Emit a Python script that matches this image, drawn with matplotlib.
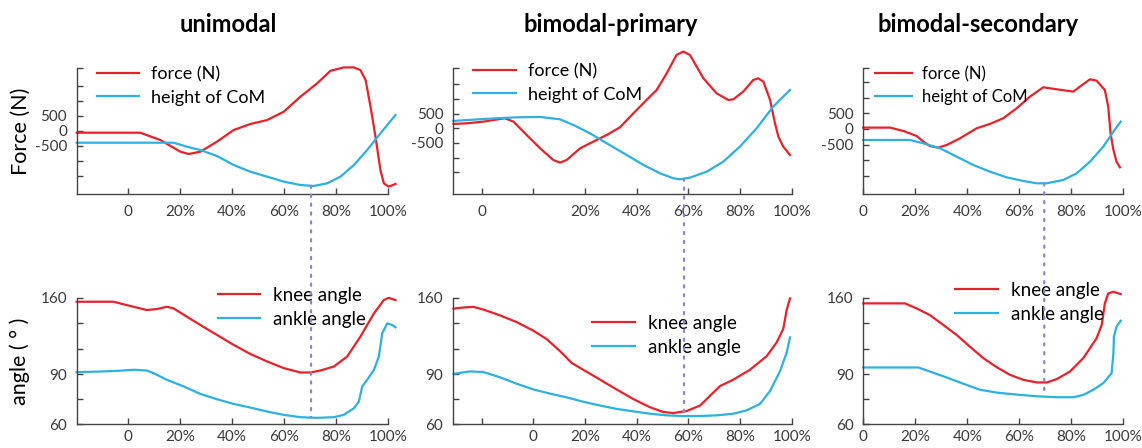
import numpy as np
import matplotlib
matplotlib.use('Agg')
import matplotlib.pyplot as plt
from matplotlib.patches import ConnectionPatch

plt.rcParams['font.family'] = ['Lato', 'DejaVu Sans']

# gait cycle in percent, one block per jump type
titles = ['unimodal', 'bimodal-primary', 'bimodal-secondary']

uni_force_x = [-19.7, 4.75, 12.5, 20.2, 23.4, 27.9, 34.3, 40.7, 47.1, 53.6, 60.0, 66.4, 72.8, 78.0,
               83.1, 87.0, 89.5, 91.5, 93.4, 95.3, 97.2, 98.5, 100.4, 103.0]
uni_force = [-67, -67, -311, -700, -777, -700, -366, 22, 222, 355, 633, 1132, 1576, 1998,
             2109, 2109, 2020, 1687, 799, -200, -1310, -1754, -1865, -1776]
uni_com_x = [-19.7, 17.6, 22.7, 27.9, 34.3, 40.7, 47.1, 53.6, 60.0, 66.4, 71.5, 76.7, 81.8,
             87.0, 92.1, 97.2, 103.0]
uni_com = [-400, -400, -533, -644, -844, -1143, -1365, -1532, -1698, -1809, -1843, -1754, -1532,
           -1143, -644, -89, 522]
uni_knee_x = [-19.7, -5.5, -0.4, 7.3, 11.2, 15.0, 17.6, 22.7, 27.9, 34.3, 40.7, 47.1, 53.6, 60.0,
              66.4, 70.3, 74.1, 79.3, 84.4, 89.5, 94.7, 98.5, 100.4, 103.0]
uni_knee = [156.3, 156.3, 153.2, 148.7, 149.6, 151.7, 150.2, 142.6, 135.0, 125.9, 116.8, 108.5,
            101.6, 95.5, 91.5, 91.5, 93.3, 97.0, 106.1, 124.4, 145.6, 157.8, 159.9, 157.8]
uni_ankle_x = [-19.7, -10.7, -4.2, 2.2, 7.3, 9.9, 15.0, 21.5, 27.9, 34.3, 40.7, 47.1, 53.6, 60.0,
               66.4, 72.8, 79.3, 83.1, 87.0, 88.9, 90.2, 92.1, 94.7, 96.6, 97.9, 99.8, 101.7, 103.0]
uni_ankle = [91.8, 92.4, 93.0, 94.0, 93.3, 90.9, 86.6, 82.6, 78.1, 74.9, 72.1, 69.9, 67.5, 65.5,
             64.1, 63.7, 64.1, 65.5, 69.5, 73.5, 82.6, 86.6, 94.0, 106.1, 127.4, 136.5, 135.0, 132.9]

pri_force_x = [-30.9, -25.8, -19.3, -12.9, -11.0, -7.7, -2.6, 2.6, 7.7, 10.3, 12.9, 18.1, 23.2,
               28.4, 33.5, 38.7, 43.8, 47.7, 51.6, 55.4, 58.0, 60.6, 63.2, 65.8, 70.9, 75.4, 77.4,
               81.2, 85.1, 87.0, 89.0, 91.6, 93.5, 94.8, 96.7, 99.3]
pri_force = [148, 171, 228, 319, 342, 228, -228, -684, -1083, -1174, -1083, -684, -456, -228, 34,
             513, 969, 1311, 1881, 2508, 2622, 2508, 2109, 1710, 1197, 969, 992, 1254, 1653, 1710,
             1596, 969, 171, -285, -627, -912]
pri_com_x = [-30.9, -19.3, -6.4, 2.6, 10.3, 15.5, 21.9, 28.4, 36.1, 42.6, 49.0, 54.2, 56.7, 60.6,
             67.1, 73.5, 79.9, 86.4, 92.8, 99.3]
pri_com = [251, 319, 376, 388, 308, 114, -171, -513, -912, -1254, -1539, -1710, -1744, -1687,
           -1482, -1140, -627, 0, 741, 1311]
pri_knee_x = [-30.9, -27.1, -23.2, -19.3, -12.9, -6.4, 0, 5.2, 10.3, 14.8, 19.3, 25.8, 32.2, 38.7,
              45.1, 50.3, 54.2, 59.3, 64.5, 68.3, 72.2, 77.4, 83.8, 90.3, 94.1, 96.7, 98.0, 99.3]
pri_knee = [150.0, 151.0, 151.6, 149.1, 143.8, 137.6, 129.8, 122.0, 111.1, 100.3, 94.0, 86.7, 80.8,
            75.0, 70.1, 67.2, 66.6, 67.8, 71.1, 76.9, 82.8, 86.7, 94.0, 106.5, 118.9, 131.4, 148.5,
            159.4]
pri_ankle_x = [-30.9, -24.5, -19.3, -12.9, -6.4, 0, 6.4, 12.9, 19.3, 25.8, 32.2, 38.7, 45.1, 51.6,
               58.0, 64.5, 70.9, 77.4, 82.5, 87.7, 91.6, 95.4, 98.0, 99.3]
pri_ankle = [90.3, 92.5, 91.9, 88.1, 84.2, 80.8, 78.3, 76.0, 73.4, 71.1, 69.1, 67.6, 66.2, 65.2,
             64.8, 64.8, 65.2, 66.2, 68.2, 72.1, 79.9, 92.5, 109.6, 123.6]

sec_force_x = [0, 10.3, 15.4, 20.5, 23.1, 25.6, 28.8, 32.1, 37.2, 43.6, 48.7, 53.8, 59.0, 64.1,
               69.2, 74.4, 80.8, 83.3, 87.2, 89.7, 92.9, 94.2, 95.1, 96.2, 97.4, 98.7]
sec_force = [43, 43, -64, -223, -404, -543, -596, -511, -298, 21, 160, 340, 660, 1032, 1330, 1266,
             1192, 1351, 1585, 1543, 1245, 713, -138, -670, -1043, -1224]
sec_com_x = [0, 17.9, 23.1, 29.5, 35.9, 42.3, 48.7, 55.1, 61.5, 66.7, 70.5, 76.9, 82.1, 87.2, 92.3,
             96.2, 99.0]
sec_com = [-351, -351, -458, -617, -883, -1149, -1362, -1543, -1660, -1734, -1734, -1628, -1415,
           -1043, -564, -85, 234]
sec_knee_x = [0, 16.0, 20.5, 25.6, 30.8, 35.9, 41.0, 46.2, 51.3, 56.4, 61.5, 66.7, 70.5, 74.4,
              79.5, 84.6, 89.7, 91.7, 92.9, 94.2, 96.2, 99.0]
sec_knee = [154.8, 154.8, 150.2, 144.1, 135.0, 125.9, 115.2, 104.6, 96.4, 89.6, 86.6, 85.0, 85.0,
            87.0, 92.4, 104.6, 122.8, 135.0, 154.8, 163.9, 165.4, 163.3]
sec_ankle_x = [0, 21.2, 25.6, 32.1, 38.5, 44.9, 51.3, 59.0, 66.7, 74.4, 80.8, 84.6, 88.5, 92.3,
               95.5, 96.2, 96.4, 97.4, 99.0]
sec_ankle = [96.1, 96.1, 92.4, 88.0, 84.2, 80.6, 78.9, 77.7, 76.7, 76.1, 76.1, 77.5, 80.6, 84.6,
             90.9, 109.2, 124.4, 133.5, 138.9]

# lowest point of the CoM, marked across both rows
dip_x = [70.5, 58.3, 69.6]

x_ticks = [[0, 20, 40, 60, 80, 100], [-20, 0, 20, 40, 60, 80, 100], [0, 20, 40, 60, 80, 100]]
x_labels_top = [['0', '20%', '40%', '60%', '80%', '100%'],
                ['0', '', '20%', '40%', '60%', '80%', '100%'],
                ['0', '20%', '40%', '60%', '80%', '100%']]
x_labels_bot = [['0', '20%', '40%', '60%', '80%', '100%'],
                ['', '0', '20%', '40%', '60%', '80%', '100%'],
                ['0', '20%', '40%', '60%', '80%', '100%']]
x_lims = [(-19.7, 100), (-31.1, 100), (0, 100)]
force_lims = [(-2120, 2080), (-2257, 2052), (-2085, 1936)]
force_ticks = [-1500, -1000, -500, 0, 500, 1000, 1500]
force_labels = ['', '', '-500', '0', '500', '', '']
angle_ticks = [60, 75, 90, 113, 137, 160]
angle_labels = ['60', '', '90', '', '', '160']

RED = '#e8222b'
BLUE = '#2db0e2'
AX_COLOR = '#444444'

W, H = 1142, 448
fig = plt.figure(figsize=(W / 100, H / 100), dpi=100)


def px_box(x0, y0, x1, y1):
    return [x0 / W, 1 - y1 / H, (x1 - x0) / W, (y1 - y0) / H]


# angle axis is stretched piecewise: 60-90 and 90-160 get different spacing
ang_v = [0, 60, 90, 160, 260]
ang_p = [-300, 0, 150, 380, 709]


def ang_fwd(v):
    return np.interp(v, ang_v, ang_p)


def ang_inv(p):
    return np.interp(p, ang_p, ang_v)


def style(ax, xlim):
    for s in ['top', 'right']:
        ax.spines[s].set_visible(False)
    for s in ['left', 'bottom']:
        ax.spines[s].set_color(AX_COLOR)
        ax.spines[s].set_linewidth(1.0)
    ax.tick_params(direction='in', length=4, width=1, colors=AX_COLOR, labelsize=11,
                   labelcolor='#3a3a3a')
    ax.tick_params(axis='x', pad=4)
    ax.tick_params(axis='y', pad=7)
    ax.set_xlim(*xlim)
    ax.patch.set_visible(False)


lefts = [76.7, 453.0, 863.3]
rights = [387.7, 791.8, 1123.3]
series = [
    (uni_force_x, uni_force, uni_com_x, uni_com, uni_knee_x, uni_knee, uni_ankle_x, uni_ankle),
    (pri_force_x, pri_force, pri_com_x, pri_com, pri_knee_x, pri_knee, pri_ankle_x, pri_ankle),
    (sec_force_x, sec_force, sec_com_x, sec_com, sec_knee_x, sec_knee, sec_ankle_x, sec_ankle),
]
# legend anchor (px from left, px from top), font size, handle length
top_leg = [(97, 66, 13, 2.35), (473, 63, 13, 2.4), (875, 66, 12, 2.2)]
bot_leg = [(218, 287, 13.5, 2.25), (592, 315, 13.5, 2.3), (955, 282, 13.5, 2.3)]

for i in range(3):
    fx, fy, cx, cy, kx, ky, ax_, ay = series[i]
    top = fig.add_axes(px_box(lefts[i], 68.3, rights[i], 194.3))
    bot = fig.add_axes(px_box(lefts[i], 297.7, rights[i], 424.0))

    style(top, x_lims[i])
    top.set_ylim(*force_lims[i])
    top.plot(fx, fy, color=RED, lw=1.6, clip_on=False, label='force (N)')
    top.plot(cx, cy, color=BLUE, lw=1.6, clip_on=False, label='height of CoM')
    top.set_yticks(force_ticks + [force_lims[i][1]])
    top.set_yticklabels(force_labels + [''])
    top.set_xticks(x_ticks[i])
    top.set_xticklabels(x_labels_top[i])
    top.tick_params(axis='x', pad=8)

    style(bot, x_lims[i])
    bot.set_yscale('function', functions=(ang_fwd, ang_inv))
    bot.set_ylim(60, 160)
    bot.plot(kx, ky, color=RED, lw=1.6, clip_on=False, label='knee angle')
    bot.plot(ax_, ay, color=BLUE, lw=1.6, clip_on=False, label='ankle angle')
    bot.set_yticks(angle_ticks)
    bot.set_yticklabels(angle_labels)
    bot.minorticks_off()
    bot.set_xticks(x_ticks[i])
    bot.set_xticklabels(x_labels_bot[i])

    lx, ly, fs, hl = top_leg[i]
    top.legend(loc='upper left', bbox_to_anchor=(lx / W, 1 - ly / H),
               bbox_transform=fig.transFigure, frameon=False, fontsize=fs,
               borderpad=0, borderaxespad=0, handlelength=hl, handletextpad=0.65,
               labelspacing=0.42)
    lx, ly, fs, hl = bot_leg[i]
    bot.legend(loc='upper left', bbox_to_anchor=(lx / W, 1 - ly / H),
               bbox_transform=fig.transFigure, frameon=False, fontsize=fs,
               borderpad=0, borderaxespad=0, handlelength=hl, handletextpad=0.7,
               labelspacing=0.35)

    # dotted marker from the CoM minimum down to the ankle curve
    d = dip_x[i]
    con = ConnectionPatch(xyA=(d, np.interp(d, cx, cy)), coordsA=top.transData,
                          xyB=(d, np.interp(d, ax_, ay)), coordsB=bot.transData,
                          linestyle=(0, (1, 3)), color='#8a86c6', lw=1.6)
    fig.add_artist(con)

fig.text(21 / W, 1 - 131 / H, 'Force (N)', rotation=90, ha='center', va='center', fontsize=15.5)
fig.text(20 / W, 1 - 361 / H, 'angle ( ° )', rotation=90, ha='center', va='center', fontsize=15.5)

title_x = [228, 611, 978]
for t, x in zip(titles, title_x):
    fig.text(x / W, 1 - 25 / H, t, ha='center', va='center', fontsize=17, fontweight='bold')

fig.savefig('out.png', dpi=100)
